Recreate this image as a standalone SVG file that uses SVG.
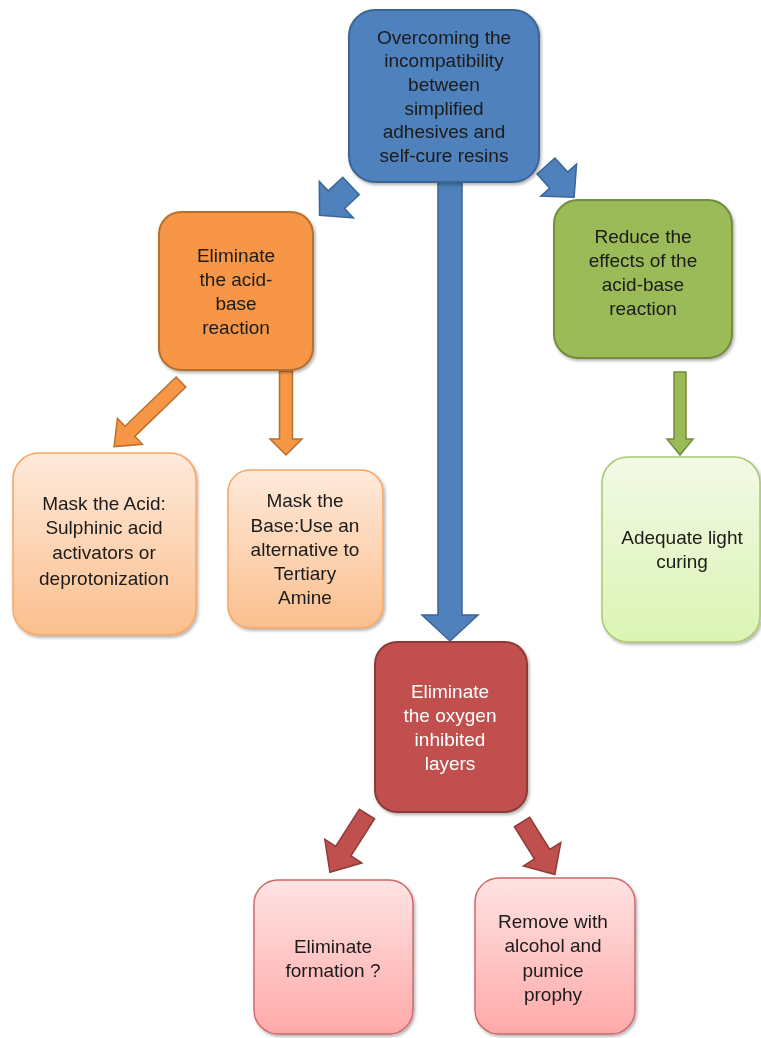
<svg xmlns="http://www.w3.org/2000/svg" width="761" height="1038" viewBox="0 0 761 1038">
<defs>
<linearGradient id="gOr" x1="0" y1="0" x2="0" y2="1"><stop offset="0" stop-color="#FEEADB"/><stop offset="1" stop-color="#FBBF8E"/></linearGradient>
<linearGradient id="gGr" x1="0" y1="0" x2="0" y2="1"><stop offset="0" stop-color="#F2F9E6"/><stop offset="1" stop-color="#DBF4B3"/></linearGradient>
<linearGradient id="gRd" x1="0" y1="0" x2="0" y2="1"><stop offset="0" stop-color="#FFE3E3"/><stop offset="1" stop-color="#FFA9A9"/></linearGradient>
<filter id="sh" x="-10%" y="-10%" width="130%" height="130%"><feDropShadow dx="1.5" dy="2" stdDeviation="1.5" flood-color="#000" flood-opacity="0.3"/></filter>
</defs>
<style>
text{font-family:"Liberation Sans",Arial,sans-serif;font-size:19px;text-anchor:middle;fill:#1a1a1a}
.w{fill:#fff}
.blue{fill:#4F81BD;stroke:#3A6595;stroke-width:2}
.or{fill:#F79646;stroke:#B8702F;stroke-width:2}
.grn{fill:#9BBB59;stroke:#728C3F;stroke-width:2}
.red{fill:#C0504D;stroke:#8E3B38;stroke-width:2}
.lor{fill:url(#gOr);stroke:#F7A564;stroke-width:1.5}
.lgr{fill:url(#gGr);stroke:#A9C774;stroke-width:1.5}
.lrd{fill:url(#gRd);stroke:#D06A68;stroke-width:1.5}
.ab{fill:#4F81BD;stroke:#3A6595;stroke-width:1.5}
.ao{fill:#F79646;stroke:#B8702F;stroke-width:1.5}
.ag{fill:#9BBB59;stroke:#728C3F;stroke-width:1.5}
.ar{fill:#C0504D;stroke:#8E3B38;stroke-width:1.5}
</style>
<g id="connectors">
<polygon class="ab" transform="translate(450,182) rotate(90)" points="0,-12 433,-12 433,-28 459,0 433,28 433,12 0,12"/>
<polygon class="ab" transform="translate(351,186) rotate(137)" points="0,-12 20,-12 20,-25 43,0 20,25 20,12 0,12"/>
<polygon class="ab" transform="translate(546,166) rotate(48)" points="0,-12 19,-12 19,-24 42,0 19,24 19,12 0,12"/>
<polygon class="ao" transform="translate(181,382) rotate(136)" points="0,-7 71,-7 71,-18 93,0 71,18 71,7 0,7"/>
<polygon class="ao" transform="translate(286,371) rotate(90)" points="0,-6.5 68,-6.5 68,-16 84,0 68,16 68,6.5 0,6.5"/>
<polygon class="ag" transform="translate(680,372) rotate(90)" points="0,-6 67,-6 67,-13 83,0 67,13 67,6 0,6"/>
<polygon class="ar" transform="translate(367,814) rotate(122.5)" points="0,-9 44,-9 44,-22 69,0 44,22 44,9 0,9"/>
<polygon class="ar" transform="translate(522,822) rotate(58)" points="0,-9 38,-9 38,-22 62,0 38,22 38,9 0,9"/>
</g>
<g id="n-top" filter="url(#sh)">
<rect class="blue" x="349" y="10" width="190" height="172" rx="26"/>
<text x="444" y="44">Overcoming the</text>
<text x="444" y="67">incompatibility</text>
<text x="444" y="91">between</text>
<text x="444" y="115">simplified</text>
<text x="444" y="138">adhesives and</text>
<text x="444" y="162">self-cure resins</text>
</g>
<g id="n-elim-acid" filter="url(#sh)">
<rect class="or" x="159" y="212" width="154" height="158" rx="22"/>
<text x="236" y="262">Eliminate</text>
<text x="236" y="286">the acid-</text>
<text x="236" y="310">base</text>
<text x="236" y="334">reaction</text>
</g>
<g id="n-reduce" filter="url(#sh)">
<rect class="grn" x="554" y="200" width="178" height="158" rx="24"/>
<text x="643" y="243">Reduce the</text>
<text x="643" y="267">effects of the</text>
<text x="643" y="291">acid-base</text>
<text x="643" y="315">reaction</text>
</g>
<g id="n-mask-acid" filter="url(#sh)">
<rect class="lor" x="13" y="453" width="183" height="182" rx="26"/>
<text x="104" y="510">Mask the Acid:</text>
<text x="104" y="534">Sulphinic acid</text>
<text x="104" y="559">activators or</text>
<text x="104" y="585">deprotonization</text>
</g>
<g id="n-mask-base" filter="url(#sh)">
<rect class="lor" x="228" y="470" width="155" height="158" rx="22"/>
<text x="305" y="507">Mask the</text>
<text x="305" y="532">Base:Use an</text>
<text x="305" y="556">alternative to</text>
<text x="305" y="580">Tertiary</text>
<text x="305" y="604">Amine</text>
</g>
<g id="n-light" filter="url(#sh)">
<rect class="lgr" x="602" y="457" width="158" height="185" rx="26"/>
<text x="682" y="544">Adequate light</text>
<text x="682" y="568">curing</text>
</g>
<g id="n-oxygen" filter="url(#sh)">
<rect class="red" x="375" y="642" width="152" height="170" rx="22"/>
<text class="w" x="450" y="698">Eliminate</text>
<text class="w" x="450" y="722">the oxygen</text>
<text class="w" x="450" y="746">inhibited</text>
<text class="w" x="450" y="770">layers</text>
</g>
<g id="n-elim-form" filter="url(#sh)">
<rect class="lrd" x="254" y="880" width="159" height="154" rx="24"/>
<text x="333" y="953">Eliminate</text>
<text x="333" y="977">formation ?</text>
</g>
<g id="n-remove" filter="url(#sh)">
<rect class="lrd" x="475" y="878" width="160" height="156" rx="24"/>
<text x="553" y="928">Remove with</text>
<text x="553" y="952">alcohol and</text>
<text x="553" y="977">pumice</text>
<text x="553" y="1001">prophy</text>
</g>
</svg>
